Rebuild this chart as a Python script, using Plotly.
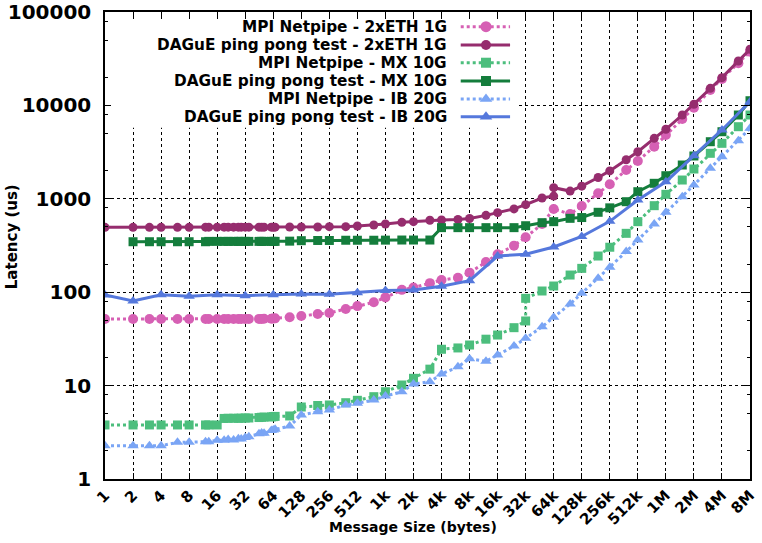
import plotly.graph_objects as go

# ---------------- data ----------------
x_ticks = [1, 2, 4, 8, 16, 32, 64, 128, 256, 512, 1024, 2048, 4096, 8192, 16384, 32768,
           65536, 131072, 262144, 524288, 1048576, 2097152, 4194304, 8388608]
x_tick_labels = ["1", "2", "4", "8", "16", "32", "64", "128", "256", "512", "1k", "2k", "4k", "8k",
                 "16k", "32k", "64k", "128k", "256k", "512k", "1M", "2M", "4M", "8M"]
y_ticks = [1, 10, 100, 1000, 10000, 100000]
y_tick_labels = ["1", "10", "100", "1000", "10000", "100000"]
y_minor = [2, 5, 8, 20, 50, 80, 200, 500, 800, 2000, 5000, 8000, 20000, 50000, 80000]

series_names = ["MPI Netpipe - 2xETH 1G", "DAGuE ping pong test - 2xETH 1G",
                "MPI Netpipe - MX 10G", "DAGuE ping pong test - MX 10G",
                "MPI Netpipe - IB 20G", "DAGuE ping pong test - IB 20G"]

# MPI Netpipe - 2xETH 1G
x_np_eth = [1, 2, 3, 4, 6, 8, 12, 13, 16, 19, 21, 24, 27, 29, 32, 35, 45, 48, 51, 61, 64, 67, 96,
            128, 192, 256, 384, 512, 768, 1024, 1536, 2048, 3072, 4096, 6144, 8192, 12288, 16384,
            24576, 32768, 49152, 65536, 98304, 131072, 196608, 262144, 393216, 524288, 786432,
            1048576, 1572864, 2097152, 3145728, 4194304, 6291456, 8388608]
y_np_eth = [51.6, 51.6, 51.6, 51.6, 51.6, 51.6,
            51.6, 51.6, 51.6, 51.6, 51.6, 51.6, 51.6, 51.6, 51.6, 51.6,
            51.8, 51.8, 52.0, 52.0, 52.2, 52.5,
            54.0,
            55.6, 58.4, 60.0, 66.0, 71.0, 78.0, 88.0, 106, 112, 125, 135, 143, 162, 210, 255,
            315, 387, 537, 778, 687, 837, 1146, 1429, 2032, 2541, 3612,
            4818, 7148, 9446, 14620, 19180, 28250, 37580]

# DAGuE ping pong test - 2xETH 1G
x_dg_eth = [1, 2, 3, 4, 6, 8, 12, 13, 16, 19, 21, 24, 27, 29, 32, 35, 45, 48, 51, 61, 64, 67, 96,
            128, 192, 256, 384, 512, 768, 1024, 1536, 2048, 3072, 4096, 6144, 8192, 12288, 16384,
            24576, 32768, 49152, 65533, 65536, 98304, 131072, 196608, 262144, 393216, 524288, 786432,
            1048576, 1572864, 2097152, 3145728, 4194304, 6291456, 8388608]
y_dg_eth = [495, 495, 495, 495, 495, 495,
            497, 497, 497, 497, 497, 497, 497, 497, 497, 497,
            497, 497, 497, 497, 497, 497,
            499,
            499, 499, 503, 503, 511, 524, 537, 560, 569, 590, 593, 600, 615, 665, 710,
            780, 865, 1020, 1070, 1315, 1210, 1365, 1690, 1990, 2620, 3191, 4442,
            5550, 7890, 10280, 15240, 19810, 29870, 39900]

# MPI Netpipe - MX 10G
x_np_mx = [1, 2, 3, 4, 6, 8, 12, 13, 16, 19, 21, 24, 27, 29, 32, 35, 45, 48, 51, 61, 64, 67, 96,
           128, 192, 256, 384, 512, 768, 1024, 1536, 2048, 3072, 4096, 6144, 8192, 12288, 16384,
           24576, 32768, 32771, 49152, 65536, 98304, 131072, 196608, 262144, 393216, 524288, 786432,
           1048576, 1572864, 2097152, 3145728, 4194304, 6291456, 8388608]
y_np_mx = [3.79, 3.79, 3.79, 3.79, 3.79, 3.79, 3.79, 3.79, 3.79,
           4.45, 4.47, 4.47, 4.47, 4.48, 4.5, 4.5,
           4.55, 4.58, 4.6, 4.62, 4.65, 4.68,
           4.73,
           5.9, 6.12, 6.2, 6.56, 6.96, 7.61, 8.6, 10.15, 11.97, 15.0, 24.5, 25.3, 27.2, 31.4, 34.8,
           41.7, 49.2, 86.0, 103, 116.5, 152.7, 180, 244, 303, 427, 569, 844,
           1117, 1589, 2084, 3069, 3927, 5915, 7890]

# DAGuE ping pong test - MX 10G
x_dg_mx = [2, 3, 4, 6, 8, 12, 13, 16, 19, 21, 24, 27, 29, 32, 35, 45, 48, 51, 61, 64, 67, 96,
           128, 192, 256, 384, 512, 768, 1024, 1536, 2048, 3072, 4096, 6144, 8192, 12288, 16384,
           24576, 32768, 49152, 65536, 98304, 131072, 196608, 262144, 393216, 524288, 786432,
           1048576, 1572864, 2097152, 3145728, 4194304, 6291456, 8388608]
y_dg_mx = [347, 347, 347, 347, 347, 347,
           350, 350, 350, 350, 350, 350, 350, 350, 350,
           350, 350, 350, 350, 350, 350,
           352,
           356, 358, 358, 360, 360, 360, 361, 362, 362, 362, 491, 491, 491, 491, 491,
           491, 515, 555, 569, 618, 630, 717, 800, 931, 1191, 1465,
           1767, 2300, 2873, 4085, 5226, 7890, 11220]

# MPI Netpipe - IB 20G
x_np_ib = [1, 2, 3, 4, 6, 8, 12, 13, 16, 19, 21, 24, 27, 29, 32, 35, 45, 48, 51, 61, 64, 67, 96,
           128, 192, 256, 384, 512, 768, 1024, 1536, 2048, 3072, 4096, 6144, 8192, 12288, 16384,
           24576, 32768, 49152, 65536, 98304, 131072, 196608, 262144, 393216, 524288, 786432,
           1048576, 1572864, 2097152, 3145728, 4194304, 6291456, 8388608]
y_np_ib = [2.27, 2.27, 2.27, 2.27, 2.47, 2.47,
           2.51, 2.51, 2.6, 2.6, 2.65, 2.62, 2.7, 2.68, 2.78, 2.84,
           3.05, 3.1, 3.08, 3.3, 3.35, 3.4,
           3.69,
           4.84, 5.26, 5.48, 6.2, 6.46, 7.01, 7.74, 8.6, 10.4, 11.0, 13.3, 15.9, 19.4, 18.2, 21.3,
           26.5, 32.1, 42.7, 53.9, 74.8, 97.3, 141, 185, 272, 362, 537,
           717, 1053, 1406, 2123, 2825, 4188, 5687]

# DAGuE ping pong test - IB 20G
x_dg_ib = [1, 2, 4, 8, 16, 32, 64, 128, 256, 512, 1024, 2048, 4096, 8192, 16384, 32768,
           65536, 131072, 262144, 524288, 1048576, 2097152, 4194304, 8388608]
y_dg_ib = [93.3, 80.5, 94.0, 90.4, 94.0, 91.8, 94.0, 95.7, 94.9, 98.8, 104.2, 105.6, 115.7,
           132.8, 244, 255, 305, 395, 574, 971, 1524, 2896, 5455, 10960]

# ---------------- styles ----------------
colors = ["#d660b4", "#962d6e", "#4cbe7d", "#147d3c", "#7aa5f5", "#5578dc"]
symbols = ["circle", "circle", "square", "square", "triangle-up", "triangle-up"]
dashes = ["dot", "solid", "dot", "solid", "dot", "solid"]
msizes = [10, 9, 9, 9, 10, 10]
xs = [x_np_eth, x_dg_eth, x_np_mx, x_dg_mx, x_np_ib, x_dg_ib]
ys = [y_np_eth, y_dg_eth, y_np_mx, y_dg_mx, y_np_ib, y_dg_ib]

FONT = "DejaVu Sans"
fig = go.Figure()
for i in range(6):
    fig.add_trace(go.Scatter(
        x=xs[i], y=ys[i], mode="lines+markers", name=series_names[i],
        line=dict(color=colors[i], width=3, dash=dashes[i]),
        marker=dict(symbol=symbols[i], size=msizes[i], color=colors[i], line=dict(width=0)),
        showlegend=False,
    ))

# ---- gnuplot-style key (text left, sample right) on an overlay axis ----
# opaque key box hiding the grid behind the key
fig.add_trace(go.Scatter(
    x=[0.008, 0.64, 0.64, 0.008, 0.008], y=[0.752, 0.752, 0.985, 0.985, 0.752],
    xaxis="x2", yaxis="y2", mode="lines", fill="toself", fillcolor="white",
    line=dict(width=0, color="white"), showlegend=False, hoverinfo="skip"))

key_rows = [0.9685, 0.9293, 0.8914, 0.8522, 0.8137, 0.7758]
key_x0, key_xm, key_x1 = 0.5515, 0.5907, 0.628
key_text_x = 0.5338
for i in range(6):
    fig.add_trace(go.Scatter(
        x=[key_x0, key_xm, key_x1], y=[key_rows[i]] * 3, xaxis="x2", yaxis="y2",
        mode="lines", line=dict(color=colors[i], width=3, dash=dashes[i]),
        showlegend=False, hoverinfo="skip"))
    fig.add_trace(go.Scatter(
        x=[key_xm], y=[key_rows[i]], xaxis="x2", yaxis="y2", mode="markers",
        marker=dict(symbol=symbols[i], size=msizes[i] + 1, color=colors[i], line=dict(width=0)),
        showlegend=False, hoverinfo="skip"))
    fig.add_annotation(x=key_text_x, y=key_rows[i], xref="paper", yref="paper",
                       text=series_names[i], showarrow=False, xanchor="right", yanchor="middle",
                       font=dict(family=FONT, size=15.3, color="black", weight="bold"))

axis_common = dict(showline=True, linecolor="black", linewidth=1.5, mirror="ticks",
                   ticks="inside", tickcolor="black", tickwidth=1,
                   showgrid=True, gridcolor="black", gridwidth=1, griddash="dot",
                   zeroline=False, automargin=False, ticklabeloverflow="allow")

fig.update_layout(
    width=762, height=543,
    margin=dict(l=105, r=12, t=12, b=64),
    paper_bgcolor="white", plot_bgcolor="white",
    font=dict(family=FONT, size=15, color="black", weight="bold"),
    xaxis=dict(type="log", range=[0, 6.92369], tickvals=x_ticks, ticktext=x_tick_labels,
               tickangle=-45, ticklen=6, tickfont=dict(family=FONT, size=15, weight="bold"),
               **axis_common),
    yaxis=dict(type="log", range=[0, 5], tickvals=y_ticks, ticktext=y_tick_labels,
               ticklen=6, ticklabelstandoff=8,
               tickfont=dict(family=FONT, size=20, weight="bold"),
               minor=dict(tickvals=y_minor, ticks="inside", ticklen=3, tickcolor="black",
                          showgrid=False),
               **axis_common),
    xaxis2=dict(overlaying="x", range=[0, 1], visible=False, domain=[0, 1], automargin=False),
    yaxis2=dict(overlaying="y", range=[0, 1], visible=False, domain=[0, 1], automargin=False),
)

fig.add_annotation(x=-0.144, y=0.518, xref="paper", yref="paper", text="Latency (us)",
                   textangle=-90, showarrow=False, xanchor="center", yanchor="middle",
                   font=dict(family=FONT, size=15, color="black", weight="bold"))
fig.add_annotation(x=0.4775, y=-0.1028, xref="paper", yref="paper", text="Message Size (bytes)",
                   showarrow=False, xanchor="center", yanchor="middle",
                   font=dict(family=FONT, size=14, color="black", weight="bold"))

# remove the default 8px page margin so the figure sits at the window's top-left corner
fig.write_html("out.html", config={"displayModeBar": False},
               post_script="document.body.style.margin='0';document.body.style.padding='0';")
